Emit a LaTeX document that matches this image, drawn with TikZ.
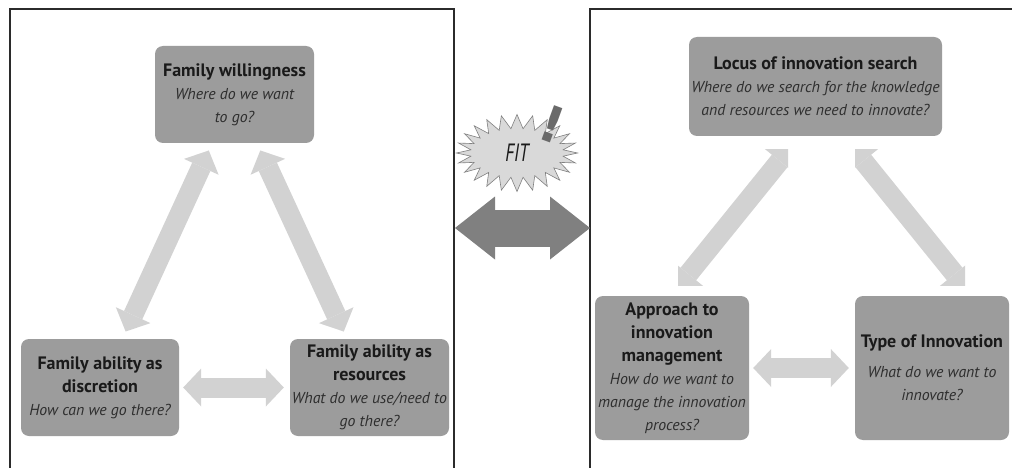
\documentclass[tikz,border=0pt]{standalone}
\usepackage{fontspec}
\usepackage{graphicx}
\setmainfont{PT Sans}
\newfontfamily\exclfont{DejaVu Sans}
\usetikzlibrary{arrows.meta,shapes.symbols}
\definecolor{boxfill}{HTML}{9C9C9C}
\definecolor{arrowlight}{HTML}{D2D2D2}
\definecolor{arrowdark}{HTML}{808080}
\definecolor{framecol}{HTML}{2B2B2B}
\definecolor{txt}{HTML}{1A1A1A}
\definecolor{ital}{HTML}{2E2E2E}
\definecolor{burst}{HTML}{D9D9D9}
\definecolor{exclcol}{HTML}{6A6A6A}
\newcommand\boxhead[1]{{\fontsize{18}{23}\selectfont\bfseries\color{txt}#1}}
\newcommand\boxq[1]{{\fontsize{15.8}{23}\selectfont\itshape\color{ital}#1}}
\begin{document}
\begin{tikzpicture}[x=1pt,y=-1pt,
  box/.style={fill=boxfill, rounded corners=8pt, inner sep=0pt, align=center,
    font=\fontsize{16}{23}\selectfont},
  lightarrow/.style={draw=arrowlight, line width=20pt,
    {Triangle[length=18pt,width=38pt,line width=0pt]}-{Triangle[length=18pt,width=38pt,line width=0pt]}},
  bigarrow/.style={draw=arrowdark, line width=37pt,
    {Triangle[length=40pt,width=63pt,line width=0pt]}-{Triangle[length=40pt,width=63pt,line width=0pt]}},
  frameline/.style={draw=framecol, line width=2pt}
]
\clip (0,0) rectangle (1012,468);
\fill[white] (0,0) rectangle (1012,468);

% frames
\draw[frameline] (10,480) -- (10,9) -- (454,9) -- (454,480);
\draw[frameline] (590,480) -- (590,9) -- (1020,9);

% left panel
\node[box, minimum width=159pt, minimum height=97pt] (fw) at (234.5,94.5)
  {\boxhead{Family willingness}\\ \boxq{Where do we want}\\ \boxq{to go?}};
\node[box, minimum width=158pt, minimum height=97pt] (fd) at (100,387.5)
  {\boxhead{Family ability as}\\ \boxhead{discretion}\\ \boxq{How can we go there?}};
\node[box, minimum width=159pt, minimum height=97pt] (fr) at (369.5,387.5)
  {\boxhead{Family ability as}\\ \boxhead{resources}\\ \boxq{What do we use/need to}\\ \boxq{go there?}};

\draw[lightarrow, shorten <=8pt, shorten >=8pt] (fw) -- (fd);
\draw[lightarrow, shorten <=8pt, shorten >=8pt] (fw) -- (fr);
\draw[lightarrow, shorten <=4pt, shorten >=6pt] (fd) -- (fr);

% middle
\node[starburst, starburst points=24, starburst point height=14pt, random starburst=0,
  fill=burst, draw=arrowdark, line width=0.6pt, minimum width=121pt, minimum height=77pt,
  inner sep=0pt, font=\fontsize{25}{26}\selectfont\itshape, text=txt] (fit) at (517,153)
  {\scalebox{0.72}[1]{FIT}};
\node[font=\exclfont\fontsize{50}{50}\selectfont\bfseries, text=exclcol, rotate=-20, inner sep=0pt]
  (excl) at (552,124) {!};
\coordinate (bl) at (455,228);
\coordinate (br) at (590,228);
\draw[bigarrow] (bl) -- (br);

% right panel
\node[box, minimum width=253pt, minimum height=99pt] (loc) at (815.5,86.5)
  {\boxhead{Locus of innovation search}\\ \boxq{Where do we search for the knowledge}\\ \boxq{and resources we need to innovate?}};
\node[box, minimum width=154pt, minimum height=144pt] (app) at (672,368)
  {\boxhead{Approach to}\\ \boxhead{innovation}\\ \boxhead{management}\\ \boxq{How do we want to}\\ \boxq{manage the innovation}\\ \boxq{process?}};
\node[box, minimum width=154pt, minimum height=144pt] (typ) at (932,368)
  {\boxhead{Type of Innovation}\\[7pt] \boxq{What do we want to}\\ \boxq{innovate?}};

\coordinate (l1) at (791,147);
\coordinate (l2) at (677,288);
\coordinate (r1) at (852,147);
\coordinate (r2) at (966,288);
\begin{scope}
  \clip (678,150) rectangle (788,285);
  \draw[lightarrow] (l1) -- (l2);
\end{scope}
\begin{scope}
  \clip (855,150) rectangle (965,285);
  \draw[lightarrow] (r1) -- (r2);
\end{scope}
\draw[lightarrow, shorten <=4pt, shorten >=6pt] (app) -- (typ);
\end{tikzpicture}
\end{document}
